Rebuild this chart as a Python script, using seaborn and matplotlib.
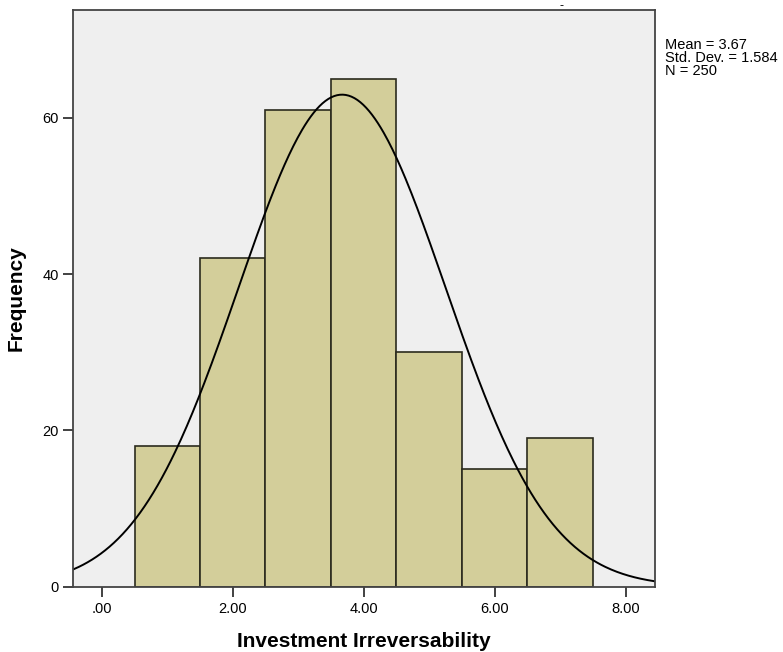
import numpy as np
import pandas as pd
import matplotlib
matplotlib.use("Agg")
import matplotlib.pyplot as plt
import seaborn as sns

# Data
bin_centers = [1, 2, 3, 4, 5, 6, 7]
frequencies = [18, 42, 61, 65, 30, 15, 19]
bin_edges = [0.5, 1.5, 2.5, 3.5, 4.5, 5.5, 6.5, 7.5]
mean_val = 3.67
std_val = 1.584
n_val = 250
x_ticks = [0, 2, 4, 6, 8]
x_tick_labels = [".00", "2.00", "4.00", "6.00", "8.00"]
y_ticks = [0, 20, 40, 60]

sns.set_style("ticks")
plt.rcParams['font.family'] = ['Liberation Sans', 'DejaVu Sans']
plt.rcParams['text.color'] = 'black'

fig = plt.figure(figsize=(7.83, 6.52), dpi=100)
ax = fig.add_axes([73/783, 1 - 586.5/652, (655-73)/783, (586.5-10)/652])
ax.set_facecolor("#EFEFEF")

df = pd.DataFrame({"x": bin_centers, "w": frequencies})
sns.histplot(data=df, x="x", weights="w", bins=bin_edges, ax=ax,
             color="#D3CE9A", alpha=1.0, edgecolor="#2b2b1e", linewidth=1.2)

xs = np.linspace(-0.44, 8.45, 400)
binw = 1.0
ys = n_val * binw / (std_val * np.sqrt(2 * np.pi)) * np.exp(-0.5 * ((xs - mean_val) / std_val) ** 2)
sns.lineplot(x=xs, y=ys, ax=ax, color="black", linewidth=1.4)

ax.set_xlim(-0.44, 8.45)
ax.set_ylim(0, 73.8)
ax.set_xticks(x_ticks)
ax.set_xticklabels(x_tick_labels)
ax.set_yticks(y_ticks)
ax.tick_params(axis="both", direction="out", length=7, width=1.3, colors="#333333",
               labelsize=10.5, labelcolor="black", top=False, right=False)
ax.tick_params(axis="x", pad=4)
ax.tick_params(axis="y", pad=3)
for s in ax.spines.values():
    s.set_color("#444444")
    s.set_linewidth(1.3)

ax.set_xlabel("Investment Irreversability", fontsize=15, fontweight="bold",
              labelpad=12, color="black")
ax.set_ylabel("Frequency", fontsize=15, fontweight="bold", labelpad=12, color="black")

fig.text(665/783, 1 - 38/652, "Mean = 3.67\nStd. Dev. = 1.584\nN = 250",
         fontsize=10.5, va="top", ha="left", linespacing=0.92)
fig.text(561/783, 1 - 6/652, "-", fontsize=9, ha="center", va="center")

fig.savefig("out.png", dpi=100)
